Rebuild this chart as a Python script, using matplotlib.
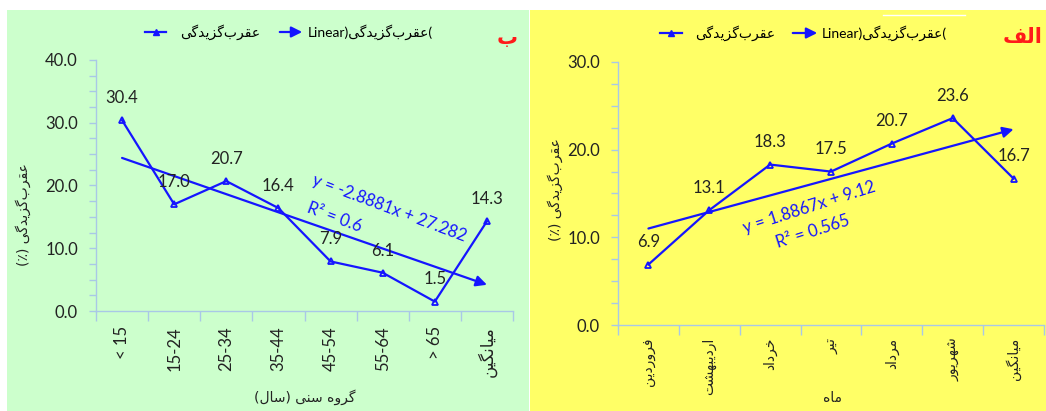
import matplotlib
matplotlib.use("Agg")
import matplotlib.pyplot as plt
from matplotlib.lines import Line2D
from matplotlib.patches import Rectangle, FancyArrowPatch
import numpy as np

plt.rcParams['font.family'] = ['Lato', 'DejaVu Sans']

# ---- data ----
age_groups = ['< 15', '15-24', '25-34', '35-44', '45-54', '55-64', '> 65', 'میانگین']
age_values = [30.4, 17.0, 20.7, 16.4, 7.9, 6.1, 1.5, 14.3]
age_slope, age_intercept, age_r2 = -2.8881, 27.282, '0.6'

months = ['فروردین', 'اردیبهشت', 'خرداد', 'تیر', 'مرداد', 'شهریور', 'میانگین']
month_values = [6.9, 13.1, 18.3, 17.5, 20.7, 23.6, 16.7]
month_slope, month_intercept, month_r2 = 1.8867, 9.12, '0.565'

series_name = 'عقرب\u200cگزیدگی'
ylabel_text = 'عقرب\u200cگزیدگی (٪)'
age_xlabel = 'گروه سنی (سال)'
month_xlabel = 'ماه'

# ---- minimal Persian shaping (matplotlib has no text shaping) ----
FORMS = {
    'ا': (0xFE8D, 0xFE8E), 'د': (0xFEA9, 0xFEAA), 'ر': (0xFEAD, 0xFEAE),
    'ز': (0xFEAF, 0xFEB0), 'و': (0xFEED, 0xFEEE),
    'ب': (0xFE8F, 0xFE90, 0xFE91, 0xFE92), 'ت': (0xFE95, 0xFE96, 0xFE97, 0xFE98),
    'خ': (0xFEA5, 0xFEA6, 0xFEA7, 0xFEA8), 'س': (0xFEB1, 0xFEB2, 0xFEB3, 0xFEB4),
    'ش': (0xFEB5, 0xFEB6, 0xFEB7, 0xFEB8), 'ع': (0xFEC9, 0xFECA, 0xFECB, 0xFECC),
    'ف': (0xFED1, 0xFED2, 0xFED3, 0xFED4), 'ق': (0xFED5, 0xFED6, 0xFED7, 0xFED8),
    'ل': (0xFEDD, 0xFEDE, 0xFEDF, 0xFEE0), 'م': (0xFEE1, 0xFEE2, 0xFEE3, 0xFEE4),
    'ن': (0xFEE5, 0xFEE6, 0xFEE7, 0xFEE8), 'ه': (0xFEE9, 0xFEEA, 0xFEEB, 0xFEEC),
    'ی': (0xFBFC, 0xFBFD, 0xFBFE, 0xFBFF), 'گ': (0xFB92, 0xFB93, 0xFB94, 0xFB95),
}
MIRROR = {'(': ')', ')': '('}


def fa(text):
    """Shape Persian letters and return them in visual (left-to-right) order."""
    out = []
    n = len(text)
    for i, ch in enumerate(text):
        if ch not in FORMS:
            if ch != '\u200c':
                out.append(MIRROR.get(ch, ch))
            continue
        prev = text[i - 1] if i > 0 else ''
        nxt = text[i + 1] if i < n - 1 else ''
        jp = prev in FORMS and len(FORMS[prev]) == 4
        jn = len(FORMS[ch]) == 4 and nxt in FORMS
        f = FORMS[ch]
        if jp and jn:
            code = f[3]
        elif jp:
            code = f[1]
        elif jn:
            code = f[2]
        else:
            code = f[0]
        out.append(chr(code))
    return ''.join(out[::-1])


W, H = 1046, 411
fig = plt.figure(figsize=(W / 100, H / 100), dpi=100)

def px(x, y):
    return x / W, 1 - y / H

# panel backgrounds
fig.patches.append(Rectangle(px(7, 411), 522 / W, 401 / H, transform=fig.transFigure,
                             facecolor='#ccffcc', edgecolor='none', zorder=-5))
fig.patches.append(Rectangle(px(530, 411), 516 / W, 401 / H, transform=fig.transFigure,
                             facecolor='#ffff66', edgecolor='none', zorder=-5))
fig.lines.append(Line2D([883 / W, 965 / W], [1 - 15 / H] * 2, transform=fig.transFigure,
                        color='white', lw=1, zorder=-4))

line_color = '#1515ff'
axis_color = '#a9c8e6'
text_color = '#222222'


def style_axes(ax, labels, ymax, label_size, label_family, pad):
    n = len(labels)
    ax.set_facecolor('none')
    ax.set_xlim(0.5, n + 0.5)
    ax.set_ylim(0, ymax)
    for s in ['top', 'right']:
        ax.spines[s].set_visible(False)
    for s in ['left', 'bottom']:
        ax.spines[s].set_color(axis_color)
        ax.spines[s].set_linewidth(1.0)
    ax.set_xticks(np.arange(0.5, n + 1, 1))
    ax.set_xticklabels([])
    ax.set_xticks(np.arange(1, n + 1), minor=True)
    ax.set_xticklabels(labels, minor=True, rotation=90, fontsize=label_size,
                       family=label_family, color=text_color, va='top')
    ax.tick_params(axis='x', which='major', length=7, color=axis_color, width=1)
    ax.tick_params(axis='x', which='minor', length=0, pad=pad)
    ax.set_yticks(np.arange(0, ymax + 1, 10))
    ax.set_yticklabels([f'{v:.1f}' for v in np.arange(0, ymax + 1, 10)],
                       fontsize=12, color=text_color)
    ax.set_yticks(np.arange(0, ymax + 0.1, 2.5), minor=True)
    ax.tick_params(axis='y', which='both', length=5, color=axis_color, width=1, pad=8)


def draw_series(ax, values, slope, intercept, x_end):
    x = np.arange(1, len(values) + 1)
    ax.plot(x, values, color=line_color, lw=1.6, marker='^', ms=5,
            mfc='none', mec=line_color, mew=1.3, zorder=3, clip_on=False)
    for xi, v in zip(x, values):
        ax.annotate(f'{v:.1f}', (xi, v), xytext=(0, 16), textcoords='offset points',
                    ha='center', va='center', fontsize=12, color=text_color)
    ax.annotate('', xy=(x_end, slope * x_end + intercept),
                xytext=(1, slope + intercept),
                arrowprops=dict(arrowstyle='-|>', color=line_color, lw=1.6,
                                mutation_scale=16, shrinkA=0, shrinkB=0), zorder=2)


# ---- left panel (ب): age groups ----
ax1 = fig.add_axes([96 / W, 1 - 311 / H, 417 / W, 251 / H])
style_axes(ax1, [fa(l) if l[0] not in '<>0123456789' else l for l in age_groups],
           40, 12, ['Lato', 'DejaVu Sans'], 11)
draw_series(ax1, age_values, age_slope, age_intercept, len(age_values))

# ---- right panel (الف): months ----
ax2 = fig.add_axes([618 / W, 1 - 325 / H, 426 / W, 263 / H])
style_axes(ax2, [fa(m) for m in months], 30, 10, 'DejaVu Sans', 9)
draw_series(ax2, month_values, month_slope, month_intercept, len(month_values))

# equations
fig.text(*px(389, 208), f'y = {age_slope}x + {age_intercept}', rotation=-20.6,
         ha='center', va='center', fontsize=12, color=line_color, rotation_mode='anchor')
fig.text(*px(334, 217), f'R² = {age_r2}', rotation=-20.6,
         ha='center', va='center', fontsize=12, color=line_color, rotation_mode='anchor')
fig.text(*px(809, 207), f'y = {month_slope}x + {month_intercept}', rotation=17.7,
         ha='center', va='center', fontsize=12, color=line_color, rotation_mode='anchor')
fig.text(*px(813, 232), f'R² = {month_r2}', rotation=17.7,
         ha='center', va='center', fontsize=12, color=line_color, rotation_mode='anchor')

# axis titles
fig.text(*px(23, 215), fa(ylabel_text), rotation=90, ha='center', va='center',
         fontsize=10, color=text_color, family='DejaVu Sans')
fig.text(*px(555, 190), fa(ylabel_text), rotation=90, ha='center', va='center',
         fontsize=10, color=text_color, family='DejaVu Sans')
fig.text(*px(305, 397), fa(age_xlabel), ha='center', va='center',
         fontsize=10, color=text_color, family='DejaVu Sans')
fig.text(*px(833, 398), fa(month_xlabel), ha='center', va='center',
         fontsize=10, color=text_color, family='DejaVu Sans')

# panel letters
fig.text(*px(507, 38), fa('ب'), ha='center', va='center', fontsize=15,
         color='#ff1a1a', weight='bold', family='DejaVu Sans')
fig.text(*px(1043, 37), fa('الف'), ha='right', va='center', fontsize=15,
         color='#ff1a1a', weight='bold', family='DejaVu Sans')

# legends
def legend(x_line, x_text1, x_arrow, x_text2, y):
    fig.lines.append(Line2D([x_line[0] / W, x_line[1] / W], [1 - y / H] * 2,
                            transform=fig.transFigure, color=line_color, lw=1.6))
    fig.lines.append(Line2D([(x_line[0] + x_line[1]) / 2 / W], [1 - y / H],
                            transform=fig.transFigure, color=line_color,
                            marker='^', ms=4, mfc=line_color, ls='none'))
    fig.text(*px(x_text1, y), fa(series_name), ha='left', va='center', fontsize=10,
             color='black', family='DejaVu Sans')
    fig.patches.append(FancyArrowPatch(px(x_arrow[0], y), px(x_arrow[1], y),
                                       transform=fig.transFigure, arrowstyle='-|>',
                                       mutation_scale=16, color=line_color, lw=1.6))
    fig.text(*px(x_text2, y), 'Linear)' + fa(series_name) + '(', ha='left', va='center',
             fontsize=10, color='black')

legend((145, 166), 180, (277, 305), 308, 32)
legend((660, 682), 695, (790, 820), 822, 33)

fig.savefig('out.png', dpi=100)
plt.close(fig)
